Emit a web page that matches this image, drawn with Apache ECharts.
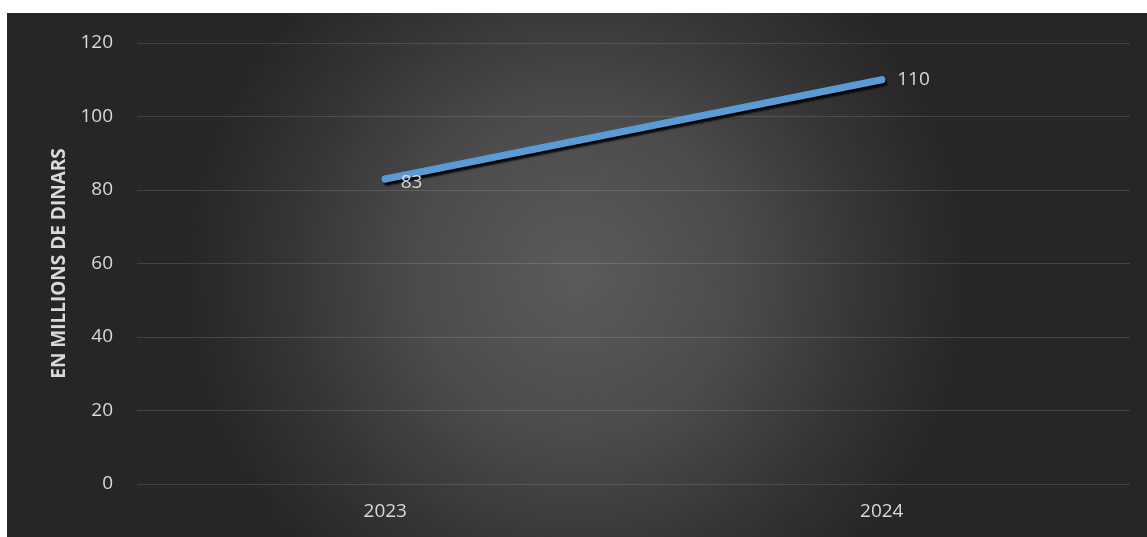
<!DOCTYPE html>
<html>
<head>
<meta charset="utf-8">
<script src="https://cdn.jsdelivr.net/npm/echarts@6/dist/echarts.min.js"></script>
<style>
  html, body { margin: 0; padding: 0; background: #ffffff; }
  #chart { position: absolute; left: 7px; top: 13px; width: 1140px; height: 524px; }
</style>
</head>
<body>
<div id="chart"></div>
<script>
// Yearly amounts, in millions of dinars
const years = ['2023', '2024'];
const amounts = [83, 110];
const axisTitle = 'EN MILLIONS DE DINARS';

const chart = echarts.init(document.getElementById('chart'));
const labelFont = '"Open Sans", "DejaVu Sans", sans-serif';

// the first value label sits a little below its point
const labelShift = [[0, 4], [0, 0]];
const points = amounts.map((v, i) => ({ value: v, label: { offset: labelShift[i] } }));

chart.setOption({
  backgroundColor: {
    type: 'radial', x: 0.5, y: 0.5, r: 0.75,
    colorStops: [
      { offset: 0, color: '#5b5b5b' },
      { offset: 0.4, color: '#4c4c4c' },
      { offset: 0.75, color: '#343434' },
      { offset: 1, color: '#262626' }
    ]
  },
  animation: false,
  grid: { left: 130, right: 17, top: 30, bottom: 53 },
  xAxis: {
    type: 'category',
    data: years,
    boundaryGap: true,
    axisLine: { show: false },
    axisTick: { show: false },
    axisLabel: { color: '#d9d9d9', fontFamily: labelFont, fontSize: 19, margin: 18 }
  },
  yAxis: {
    type: 'value',
    min: 0, max: 120, interval: 20,
    name: axisTitle,
    nameLocation: 'middle',
    nameGap: 64,
    nameTextStyle: { color: '#d9d9d9', fontFamily: labelFont, fontSize: 19, fontWeight: 'bold' },
    axisLine: { show: false },
    axisTick: { show: false },
    axisLabel: { color: '#d9d9d9', fontFamily: labelFont, fontSize: 19, margin: 24 },
    splitLine: { lineStyle: { color: 'rgba(255,255,255,0.13)', width: 1 } }
  },
  series: [{
    type: 'line',
    data: points,
    symbol: 'circle',
    symbolSize: 7,
    itemStyle: { color: '#5b9bd5' },
    lineStyle: {
      color: '#5b9bd5', width: 7, cap: 'round',
      shadowColor: 'rgba(0,0,0,0.95)', shadowBlur: 2, shadowOffsetX: 2, shadowOffsetY: 3
    },
    label: {
      show: true,
      position: 'right',
      distance: 12,
      color: '#d9d9d9',
      fontFamily: labelFont,
      fontSize: 19
    }
  }]
});
</script>
</body>
</html>
